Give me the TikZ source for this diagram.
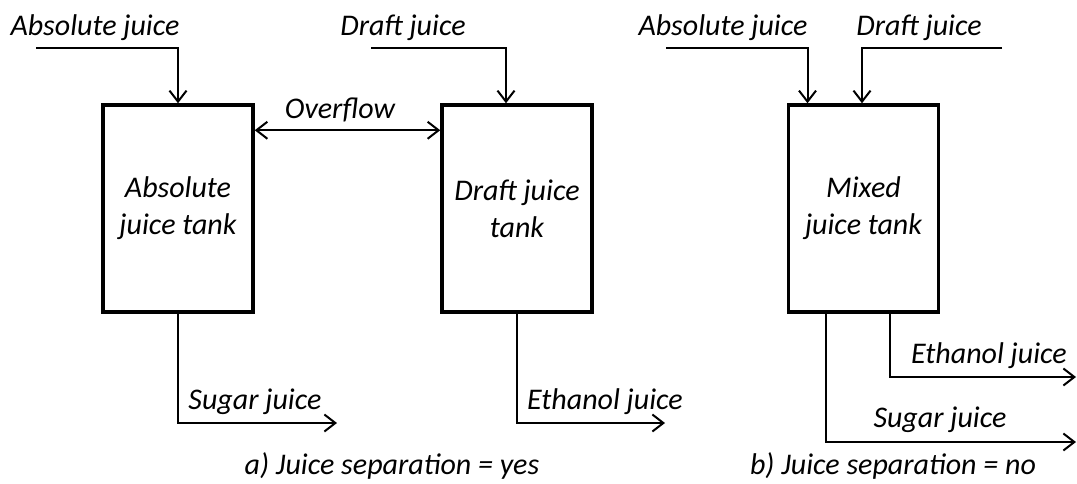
\documentclass[tikz,border=0pt]{standalone}
\usepackage{fontspec}
\setmainfont{Carlito}
\usetikzlibrary{arrows.meta}
\newcommand{\lblfont}{\fontsize{15}{18.5}\selectfont\itshape}
\begin{document}
\begin{tikzpicture}[x=0.5pt,y=-0.5pt,
  tank/.style={draw,line width=1.75pt,minimum width=75pt,minimum height=103.5pt,inner sep=0pt,align=center,font=\lblfont},
  lbl/.style={inner sep=0pt,font=\lblfont},
  flow/.style={line width=1pt,-{Straight Barb[length=5.5pt,width=8.5pt,line width=1pt]}},
  flowboth/.style={line width=1pt,{Straight Barb[length=5.5pt,width=8.5pt,line width=1pt]}-{Straight Barb[length=5.5pt,width=8.5pt,line width=1pt]}}]
\fill[white] (0,0) rectangle (1077,483);
\useasboundingbox (0,0) rectangle (1077,483);

% tanks
\node[tank] (t1) at (178,208.5) {Absolute\\juice tank};
\node[tank] (t2) at (517,208.5) {Draft juice\\tank};
\node[tank] (t3) at (863.5,208.5) {Mixed\\juice tank};

% labels
\node[lbl] (la1) at (95,28) {Absolute juice};
\node[lbl] (ld1) at (403,28) {Draft juice};
\node[lbl] (la2) at (723,28) {Absolute juice};
\node[lbl] (ld2) at (919,28) {Draft juice};
\node[lbl] (lov) at (340,110) {Overflow};
\node[lbl] (ls1) at (255,402) {Sugar juice};
\node[lbl] (le1) at (605,402) {Ethanol juice};
\node[lbl] (le2) at (989,356) {Ethanol juice};
\node[lbl] (ls2) at (940,420) {Sugar juice};
\node[lbl] (ca) at (392,466) {a) Juice separation = yes};
\node[lbl] (cb) at (893,466) {b) Juice separation = no};

% free ends
\coordinate (ina1) at (36,48);
\coordinate (ind1) at (371,48);
\coordinate (ina2) at (666,48);
\coordinate (ind2) at (1002,48);
\coordinate (outs1) at (337,423);
\coordinate (oute1) at (665,423);
\coordinate (oute2) at (1076,377);
\coordinate (outs2) at (1076,442);

% connectors
\draw[flow] (ina1) -| (t1.north);
\draw[flow] (ind1) -| ([xshift=-5.5pt]t2.north);
\draw[flowboth] ([yshift=-13.5pt]t1.north east) -- ([yshift=-13.5pt]t2.north west);
\draw[flow] (t1.south) |- (outs1);
\draw[flow] (t2.south) |- (oute1);
\draw[flow] (ina2) -| ([xshift=-28pt]t3.north);
\draw[flow] (ind2) -| ([xshift=-0.75pt]t3.north);
\draw[flow] ([xshift=13.25pt]t3.south) |- (oute2);
\draw[flow] ([xshift=-19pt]t3.south) |- (outs2);
\end{tikzpicture}
\end{document}
